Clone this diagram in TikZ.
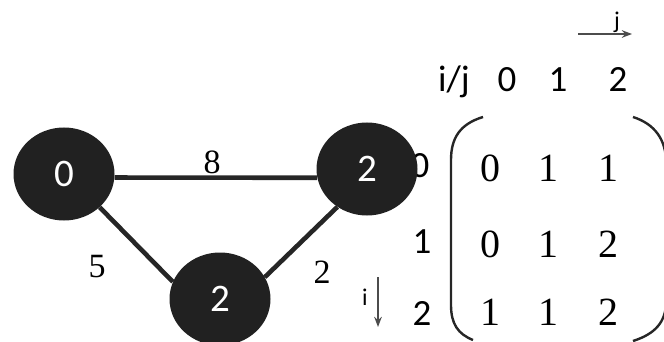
\documentclass[tikz,border=0pt]{standalone}
\usepackage{fontspec}
\setmainfont{Liberation Serif}
\newfontfamily\calibri{Carlito}
\usetikzlibrary{arrows.meta,shapes.geometric}

\begin{document}
\begin{tikzpicture}[x=1pt,y=-1pt,>=Stealth,
  vertex/.style={ellipse,fill=black!87,minimum width=101pt,minimum height=93pt,
                 inner sep=0pt,text=white,font=\calibri\fontsize{39}{42}\selectfont},
  edge/.style={line width=4.6pt,black!85},
  weight/.style={anchor=base,font=\fontsize{34}{36}\selectfont},
  entry/.style={anchor=base,font=\fontsize{40}{44}\selectfont},
  idx/.style={anchor=base,font=\calibri\fontsize{37}{40}\selectfont},
  small/.style={font=\calibri\fontsize{24}{26}\selectfont},
  pointer/.style={->,line width=1.6pt,black!70}]
  \useasboundingbox (0,0) rectangle (664,342);

  % row labels (the first sits under the vertex)
  \node[idx] (r0) at (420,178) {0};
  \node[idx] (r1) at (422,253) {1};
  \node[idx] (r2) at (422,325) {2};

  % graph
  \node[vertex] (v0) at (64,174) {0};
  \node[vertex] (v1) at (220,299) {2};
  \node[vertex] (v2) at (367,169) {2};

  \draw[edge] (v0.-4) -- (v2.190);
  \draw[edge] (v0.-43) -- (v1.160);
  \draw[edge] (v2.232) -- (v1.26);
  \node[weight] (w8) at (212,173) {8};
  \node[weight] (w5) at (97,277) {5};
  \node[weight] (w2) at (322,283) {2};

  % column header
  \node[idx] (hij) at (454,92) {i/j};
  \node[idx] (c0) at (507,92) {0};
  \node[idx] (c1) at (558,92) {1};
  \node[idx] (c2) at (618,92) {2};

  % direction marks
  \node[small] (jl) at (617,22) {j};
  \coordinate (ja) at (578,34);
  \coordinate (jb) at (632,34);
  \draw[pointer] (ja) -- (jb);
  \node[small] (il) at (365,297) {i};
  \coordinate (ia) at (378,277);
  \coordinate (ib) at (378,327);
  \draw[pointer] (ia) -- (ib);

  % matrix
  \node[entry] (m00) at (490,182) {0};
  \node[entry] (m01) at (548,182) {1};
  \node[entry] (m02) at (608,182) {1};
  \node[entry] (m10) at (490,257) {0};
  \node[entry] (m11) at (548,257) {1};
  \node[entry] (m12) at (608,257) {2};
  \node[entry] (m20) at (490,325) {1};
  \node[entry] (m21) at (548,325) {1};
  \node[entry] (m22) at (608,325) {2};

  \draw[line width=2.4pt,black!85] (483,117) .. controls (460,124) and (451,138) .. (451,160)
    -- (451,305) .. controls (451,324) and (458,334) .. (473,340);
  \draw[line width=2.4pt,black!85] (633,117) .. controls (655,124) and (666,140) .. (666,162)
    -- (666,302) .. controls (666,322) and (655,334) .. (633,341);
\end{tikzpicture}
\end{document}
